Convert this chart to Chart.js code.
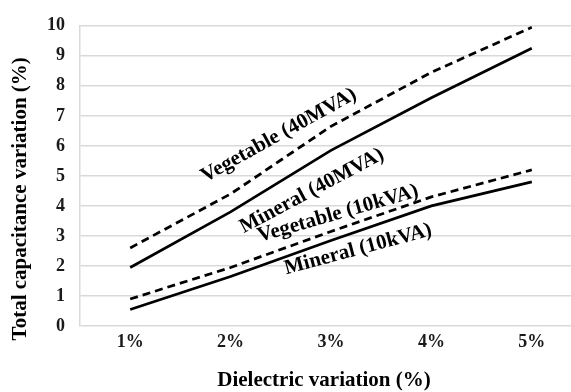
<!DOCTYPE html>
<html>
<head>
<meta charset="utf-8">
<script src="https://cdn.jsdelivr.net/npm/chart.js@4.4.1/dist/chart.umd.min.js"></script>
<style>
    html, body { margin: 0; padding: 0; background: #fff; overflow: hidden; }
    #wrap { width: 571px; height: 392px; overflow: hidden; }
</style>
</head>
<body>
<div id="wrap"><canvas id="chart" width="582" height="392"></canvas></div>
<script>
// dielectric variation steps on the x axis
const categories = ['1%', '2%', '3%', '4%', '5%'];
const yTicks = [0, 1, 2, 3, 4, 5, 6, 7, 8, 9, 10];

// total capacitance variation (%) for each transformer / oil
const vegetable40MVA = [2.6, 4.4, 6.65, 8.45, 9.95];
const mineral40MVA = [1.95, 3.8, 5.85, 7.6, 9.25];
const vegetable10kVA = [0.9, 1.95, 3.15, 4.3, 5.2];
const mineral10kVA = [0.55, 1.65, 2.85, 4.0, 4.8];

// inline curve labels: text, position along x (category index), y value, angle (deg)
const curveLabels = ['Vegetable (40MVA)', 'Mineral (40MVA)', 'Vegetable (10kVA)', 'Mineral (10kVA)'];
const curveLabelX = [1.48, 1.81, 2.07, 2.27];
const curveLabelY = [6.35, 4.5, 3.74, 2.55];
const curveLabelAngle = [29, 28, 16, 15];

const xTitle = 'Dielectric variation (%)';
const yTitle = 'Total capacitance variation (%)';

const serif = '"Liberation Serif", "Times New Roman", serif';

const labelsPlugin = {
    id: 'curveLabels',
    afterDatasetsDraw(chart) {
        const ctx = chart.ctx;
        const xs = chart.scales.x;
        const ys = chart.scales.y;
        ctx.save();
        ctx.fillStyle = '#000';
        ctx.font = 'bold 21px ' + serif;
        ctx.textAlign = 'center';
        ctx.textBaseline = 'middle';
        for (let i = 0; i < curveLabels.length; i++) {
            const px = xs.getPixelForValue(curveLabelX[i]);
            const py = ys.getPixelForValue(curveLabelY[i]);
            ctx.save();
            ctx.translate(px, py);
            ctx.rotate(-curveLabelAngle[i] * Math.PI / 180);
            ctx.fillText(curveLabels[i], 0, 0);
            ctx.restore();
        }
        ctx.restore();
    },
    afterDraw(chart) {
        // axis titles
        const ctx = chart.ctx;
        const area = chart.chartArea;
        ctx.save();
        ctx.fillStyle = '#000';
        ctx.font = 'bold 21px ' + serif;
        ctx.textAlign = 'center';
        ctx.textBaseline = 'middle';
        ctx.fillText(xTitle, area.left + 244, 381);
        ctx.translate(21, area.top + 173);
        ctx.rotate(-Math.PI / 2);
        ctx.fillText(yTitle, 0, 0);
        ctx.restore();
    }
};

function lineSet(label, data, dashed) {
    return {
        label: label,
        data: data,
        borderColor: '#000',
        backgroundColor: '#000',
        borderWidth: 2.75,
        borderDash: dashed ? [8, 5] : [],
        pointRadius: 0,
        tension: 0,
        fill: false
    };
}

window.onload = () => {
    const ctx = document.getElementById('chart').getContext('2d');
    new Chart(ctx, {
        type: 'line',
        data: {
            labels: categories,
            datasets: [
                lineSet(curveLabels[0], vegetable40MVA, true),
                lineSet(curveLabels[1], mineral40MVA, false),
                lineSet(curveLabels[2], vegetable10kVA, true),
                lineSet(curveLabels[3], mineral10kVA, false)
            ]
        },
        options: {
            responsive: false,
            devicePixelRatio: 1,
            animation: false,
            layout: { padding: { top: 19, left: 0, right: 0, bottom: 0 } },
            plugins: {
                legend: { display: false },
                tooltip: { enabled: false }
            },
            scales: {
                x: {
                    type: 'category',
                    offset: true,
                    grid: { display: false, drawTicks: false },
                    border: { display: false },
                    ticks: {
                        color: '#1a1a1a',
                        padding: 6,
                        font: { family: serif, size: 18, weight: 'bold' }
                    },
                    afterFit(scale) { scale.height = 66; }
                },
                y: {
                    min: 0,
                    max: 10,
                    afterBuildTicks(scale) {
                        scale.ticks = yTicks.map(v => ({ value: v }));
                    },
                    grid: { color: '#d9d9d9', lineWidth: 1.5, drawTicks: false },
                    border: { display: true, color: '#d9d9d9', width: 1.5 },
                    ticks: {
                        color: '#1a1a1a',
                        padding: 15,
                        font: { family: serif, size: 18, weight: 'bold' }
                    },
                    afterFit(scale) { scale.width = 80; }
                }
            }
        },
        plugins: [labelsPlugin]
    });
};
</script>
</body>
</html>
